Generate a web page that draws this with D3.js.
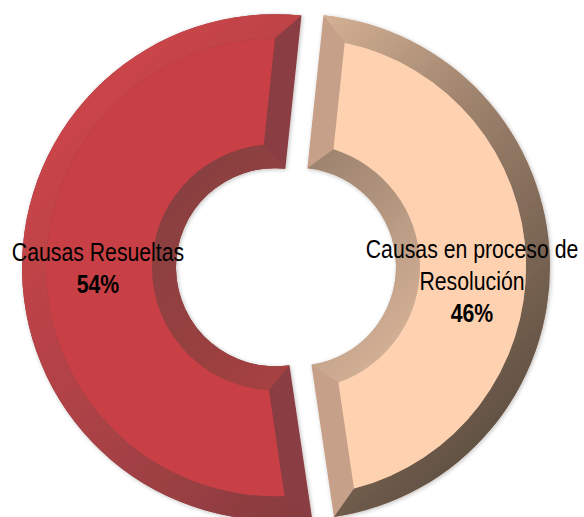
<!DOCTYPE html>
<html>
<head>
<meta charset="utf-8">
<script src="https://cdn.jsdelivr.net/npm/d3@7"></script>
<style>
  html, body { margin: 0; padding: 0; background: #ffffff; }
  svg { display: block; }
</style>
</head>
<body>
<svg id="chart" width="584" height="517"></svg>
<script>
// ---- data ----
const categories = ["Causas Resueltas", "Causas en proceso de Resolución"];
const values = [54, 46];
const labelLines = [["Causas Resueltas"], ["Causas en proceso de", "Resolución"]];
const percentLabels = ["54%", "46%"];

// ---- styles ----
const faceColors = ["#C84145", "#FED2B0"];
const edgeColors = ["#8A3D42", "#C6A088"];
const outerStops = [
  ["#CA4448", "#A84245", "#7E3A3E"],
  ["#F2CBAB", "#A0846E", "#635244"]
];
const innerStops = [
  ["#7A3E40", "#98403F", "#C44547"],
  ["#6E5D4C", "#AE917B", "#F6CFB0"]
];

const W = 584, H = 517;
const cx = 286, cy = 267;
const R = 253, rIn = 99, bev = 24, explode = 11;

const svg = d3.select("#chart");
const defs = svg.append("defs");

const shadow = defs.append("filter").attr("id", "shadow")
  .attr("x", "-10%").attr("y", "-10%").attr("width", "120%").attr("height", "120%");
shadow.append("feGaussianBlur").attr("in", "SourceAlpha").attr("stdDeviation", 2).attr("result", "b");
shadow.append("feOffset").attr("in", "b").attr("dx", 1).attr("dy", 1).attr("result", "o");
shadow.append("feComponentTransfer").attr("in", "o").attr("result", "s")
  .append("feFuncA").attr("type", "linear").attr("slope", 0.25);
const fm = shadow.append("feMerge");
fm.append("feMergeNode").attr("in", "s");
fm.append("feMergeNode").attr("in", "SourceGraphic");

function makeGrad(id, stops) {
  const g = defs.append("linearGradient").attr("id", id)
    .attr("gradientUnits", "userSpaceOnUse")
    .attr("x1", -R * 0.7).attr("y1", -R * 0.7)
    .attr("x2", R * 0.7).attr("y2", R * 0.7);
  stops.forEach((c, i) => g.append("stop")
    .attr("offset", i / (stops.length - 1)).attr("stop-color", c));
}
values.forEach((v, i) => {
  makeGrad("outer" + i, outerStops[i]);
  makeGrad("inner" + i, innerStops[i]);
});

const pie = d3.pie().sort(null).value(d => d)
  .startAngle(171.6 * Math.PI / 180)
  .endAngle(171.6 * Math.PI / 180 + 2 * Math.PI);
const arcs = pie(values);

const fullArc = d3.arc().innerRadius(rIn).outerRadius(R);
const faceArc = d3.arc().innerRadius(rIn + bev).outerRadius(R - bev)
  .padRadius(R).padAngle(2 * Math.asin(bev / R));

function pt(r, a) { return [r * Math.sin(a), -r * Math.cos(a)]; }

function bandPath(a0, a1, rEdge, rFace) {
  const p = d3.path();
  const dF = Math.asin(bev / rFace);
  const s = pt(rEdge, a0);
  p.moveTo(s[0], s[1]);
  p.arc(0, 0, rEdge, a0 - Math.PI / 2, a1 - Math.PI / 2, false);
  const c = pt(rFace, a1 - dF);
  p.lineTo(c[0], c[1]);
  p.arc(0, 0, rFace, a1 - dF - Math.PI / 2, a0 + dF - Math.PI / 2, true);
  p.closePath();
  return p.toString();
}

const root = svg.append("g").attr("transform", `translate(${cx},${cy})`);

const slices = root.selectAll("g.slice").data(arcs).join("g")
  .attr("class", "slice")
  .attr("filter", "url(#shadow)")
  .attr("transform", d => {
    const m = (d.startAngle + d.endAngle) / 2;
    const [x, y] = pt(explode, m);
    return `translate(${x},${y})`;
  });

slices.append("path").attr("d", fullArc).attr("fill", (d, i) => edgeColors[i]);
slices.append("path").attr("d", d => bandPath(d.startAngle, d.endAngle, R, R - bev))
  .attr("fill", (d, i) => `url(#outer${i})`);
slices.append("path").attr("d", d => bandPath(d.startAngle, d.endAngle, rIn, rIn + bev))
  .attr("fill", (d, i) => `url(#inner${i})`);
slices.append("path").attr("d", faceArc).attr("fill", (d, i) => faceColors[i]);

// ---- labels ----
const labelPos = [[98, 261], [472, 258]];
const lineH = 32;
const font = "'Liberation Sans', Arial, sans-serif";

const labels = svg.selectAll("g.label").data(arcs).join("g").attr("class", "label");
labels.each(function (d, i) {
  const g = d3.select(this);
  const lines = labelLines[i];
  lines.forEach((t, k) => {
    g.append("text")
      .attr("transform", `translate(${labelPos[i][0]},${labelPos[i][1] + k * lineH}) scale(0.85,1)`)
      .attr("text-anchor", "middle")
      .attr("font-family", font).attr("font-size", 25).attr("fill", "#000")
      .text(t);
  });
  g.append("text")
    .attr("transform", `translate(${labelPos[i][0]},${labelPos[i][1] + lines.length * lineH}) scale(0.85,1)`)
    .attr("text-anchor", "middle")
    .attr("font-family", font).attr("font-size", 25).attr("font-weight", "bold").attr("fill", "#000")
    .text(percentLabels[i]);
});
</script>
</body>
</html>
